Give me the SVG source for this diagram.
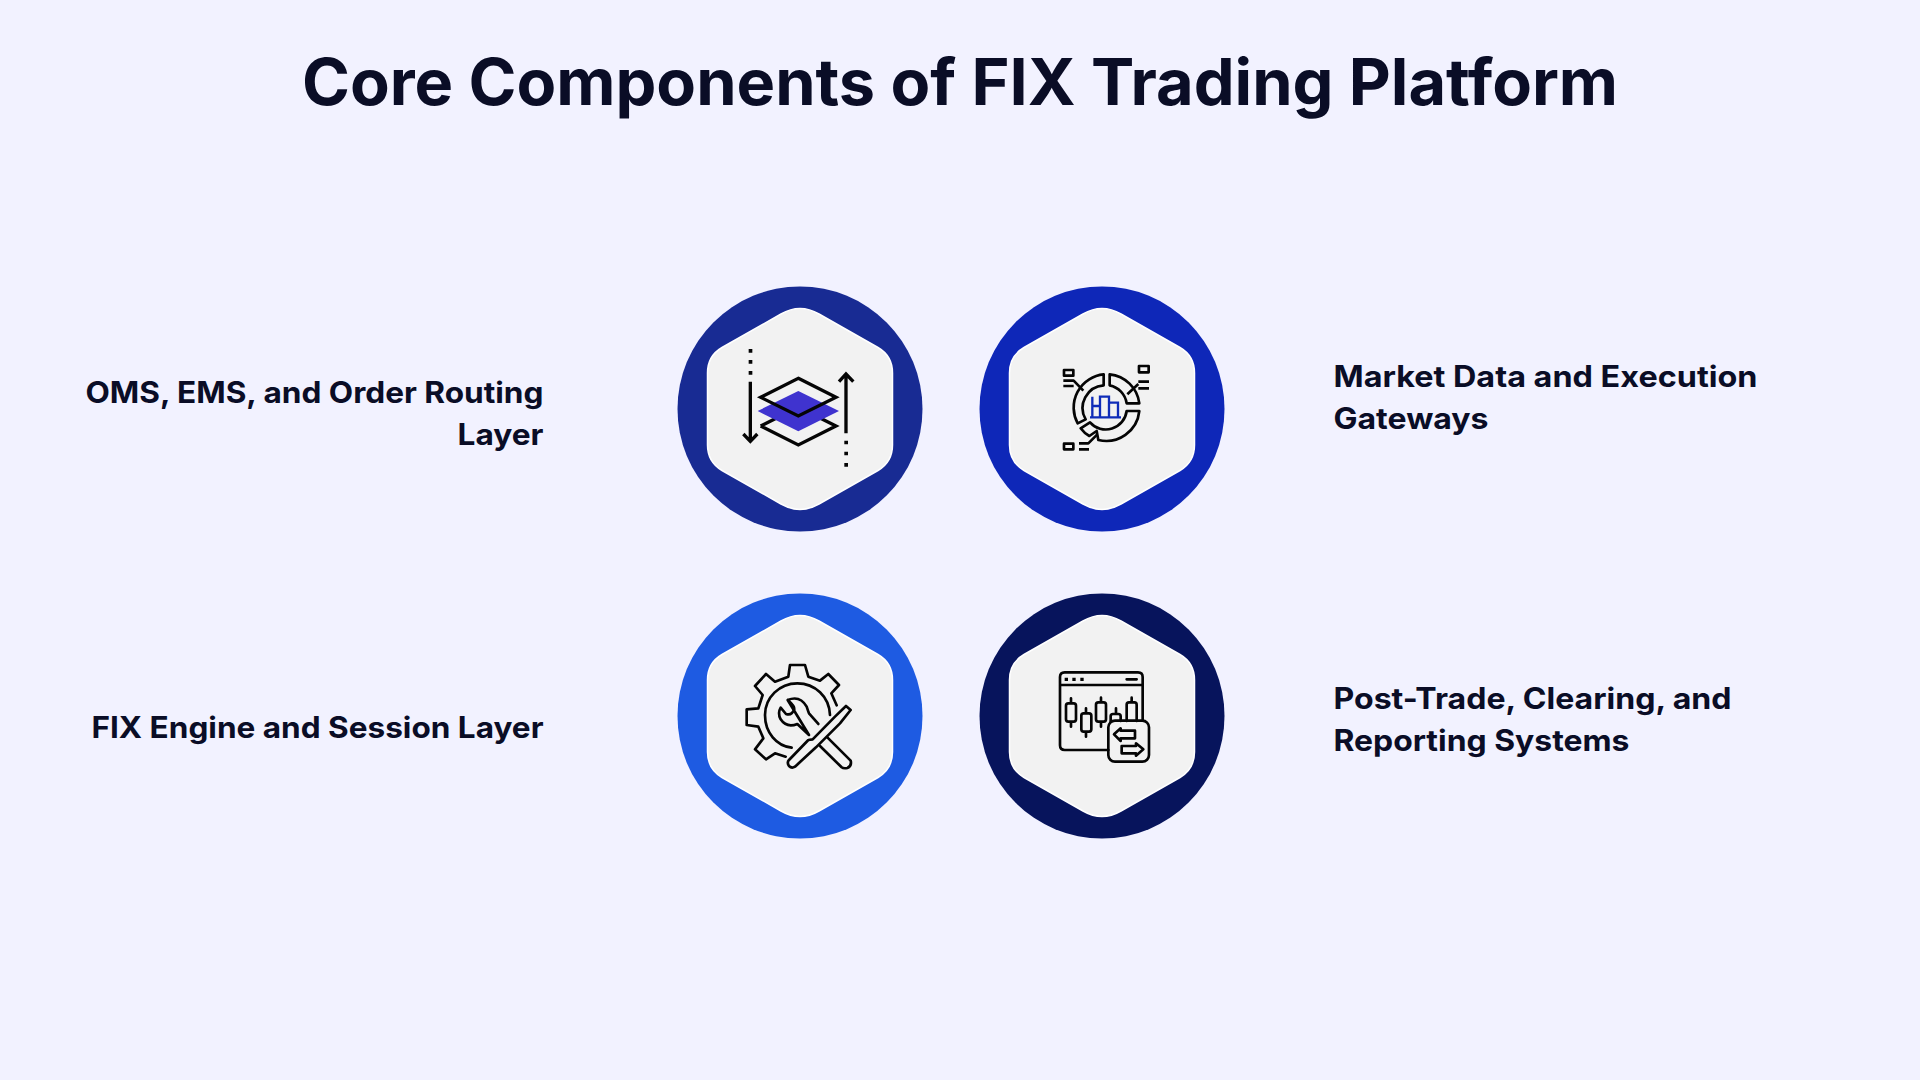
<svg xmlns="http://www.w3.org/2000/svg" width="1920" height="1080" viewBox="0 0 1920 1080">
<style>
text{font-family:"Inter","Liberation Sans",sans-serif;fill:#0a0d26}
.title{font-size:64px;font-weight:700}
.label{font-size:29.500px;font-weight:700}
.hex{fill:#f2f2f2;stroke:#fff;stroke-width:1.5}
.ic{fill:none;stroke:#050505;stroke-width:8;stroke-linejoin:round}
.lay{fill:none;stroke:#050505;stroke-width:10;stroke-linejoin:miter}
.thin{fill:none;stroke:#050505;stroke-width:8;stroke-linejoin:round;stroke-linecap:round}
.blue{fill:none;stroke:#0f2cb8;stroke-width:7}
</style>
<defs>
<path id="hexa" d="M-19 -95Q0 -106 19 -95L78 -61.500Q92.500 -53 92.500 -36L92.500 36Q92.500 53 78 61.500L19 95Q0 106 -19 95L-78 61.500Q-92.500 53 -92.500 36L-92.500 -36Q-92.500 -53 -78 -61.500Z"/>
</defs>
<rect width="1920" height="1080" fill="#f2f2ff"/>
<text class="title" id="title" x="960" y="105" text-anchor="middle" textLength="1316" lengthAdjust="spacingAndGlyphs">Core Components of FIX Trading Platform</text>

<g id="node-oms">
<circle cx="800" cy="409" r="122.500" fill="#182b93"/>
<use href="#hexa" class="hex" x="800" y="409"/>
<g transform="translate(740 340) scale(.3333)">
<path class="lay" d="M62 258L175 315L288 258L240 234M110 234L62 258"/>
<path d="M175 153L297 213L175 274L53 213Z" fill="#3f33cf"/>
<path class="lay" d="M175 115L288 172L175 228L62 172Z"/>
<path class="lay" d="M31 125V300M10 282L31 304L52 282M318 280V105M297 125L318 102L340 125"/>
<path d="M26 27h11v11h-11zM26 60h11v11h-11zM26 93h11v11h-11zM313 302h11v11h-11zM313 335h11v11h-11zM313 369h11v11h-11z" fill="#050505"/>
</g>
<text class="label" x="543.500" y="403" text-anchor="end" textLength="458" lengthAdjust="spacingAndGlyphs">OMS, EMS, and Order Routing</text>
<text class="label" x="543.500" y="445" text-anchor="end" textLength="86" lengthAdjust="spacingAndGlyphs">Layer</text>
</g>

<g id="node-market">
<circle cx="1102" cy="409" r="122.500" fill="#0e27b8"/>
<use href="#hexa" class="hex" x="1102" y="409"/>
<g transform="translate(1055 360) scale(.3333)">
<path class="ic" d="M146 43V76A68 68 0 0 0 92 178L68 190A100 100 0 0 1 146 43Z"/>
<path class="ic" d="M164 43V76A65 65 0 0 1 215 130H253A100 100 0 0 0 164 43Z"/>
<path class="ic" d="M253 153H215A63 63 0 0 1 105 187L77 205Q88 220 103 228L125 213L130 240A100 100 0 0 0 253 153Z"/>
<path class="ic" d="M27 30h28v17h-28zM25 62H56L85 92M25 78H56M252 18h29v19h-29zM250 65H282M250 85H282M250 72L217 103M27 251h28v17h-28zM72 250H100L127 223M72 268H102"/>
<path class="blue" d="M105 172H198M112 172V110M135 172V110H162V172M112 138H135M162 128H189V172"/>
</g>
<text class="label" x="1333.500" y="387" textLength="424" lengthAdjust="spacingAndGlyphs">Market Data and Execution</text>
<text class="label" x="1333.500" y="429" textLength="155" lengthAdjust="spacingAndGlyphs">Gateways</text>
</g>

<g id="node-engine">
<circle cx="800" cy="716" r="122.500" fill="#1e5be2"/>
<use href="#hexa" class="hex" x="800" y="716"/>
<g transform="translate(740 660) scale(.3333)">
<path class="thin" d="M290 136L274 100L297 75L265 42L240 62L205 50L195 15H150L145 50L105 65L78 42L45 78L68 105L55 145L20 148V195L55 200L70 235L45 268L78 298L105 280L137 290"/>
<path class="thin" d="M270 165C268 110 225 70 172 70C118 70 75 113 75 165C75 218 110 258 155 263"/>
<path class="thin" d="M143 120Q180 105 200 140Q205 155 207 160L235 192M207 225L172 192Q140 205 122 178Q112 160 122 143L138 162Q155 168 163 148Q165 138 143 120Z"/>
<path class="thin" d="M318 138L332 150L300 190L240 250L228 262L165 320Q155 326 147 318Q140 308 147 300L205 240L218 238L285 170Z"/>
<path class="thin" d="M262 232L332 302Q336 318 322 324Q310 326 305 322L240 258"/>
</g>
<text class="label" x="543.500" y="738" text-anchor="end" textLength="452" lengthAdjust="spacingAndGlyphs">FIX Engine and Session Layer</text>
</g>

<g id="node-posttrade">
<circle cx="1102" cy="716" r="122.500" fill="#07145c"/>
<use href="#hexa" class="hex" x="1102" y="716"/>
<g transform="translate(1050 665) scale(.3333)">
<path class="thin" d="M175 255H44Q30 255 30 241V36Q30 22 44 22H264Q278 22 278 36V165M30 60H278M230 43H260"/>
<path d="M44 38h10v10h-10zM67 38h10v10h-10zM91 38h10v10h-10z" fill="#050505"/>
<path class="thin" d="M63 100V115M63 170V185M48 122Q48 115 55 115H71Q78 115 78 122V163Q78 170 71 170H55Q48 170 48 163ZM108 130V145M108 200V215M94 152Q94 145 101 145H117Q124 145 124 152V193Q124 200 117 200H101Q94 200 94 193ZM153 98V112M153 170V185M138 119Q138 112 145 112H161Q168 112 168 119V163Q168 170 161 170H145Q138 170 138 163ZM198 130V147M182 170V154Q182 147 189 147H205Q212 147 212 154V168M245 98V112M230 168V119Q230 112 237 112H253Q260 112 260 119V168"/>
<rect class="thin" x="175" y="167" width="122" height="123" rx="20"/>
<path class="thin" d="M192 208L212 190V197H255V220H212V228ZM280 253L258 235V243H215V265H258V272Z"/>
</g>
<text class="label" x="1333.500" y="709" textLength="398" lengthAdjust="spacingAndGlyphs">Post-Trade, Clearing, and</text>
<text class="label" x="1333.500" y="751" textLength="296" lengthAdjust="spacingAndGlyphs">Reporting Systems</text>
</g>

<g id="connectors"></g>
</svg>
